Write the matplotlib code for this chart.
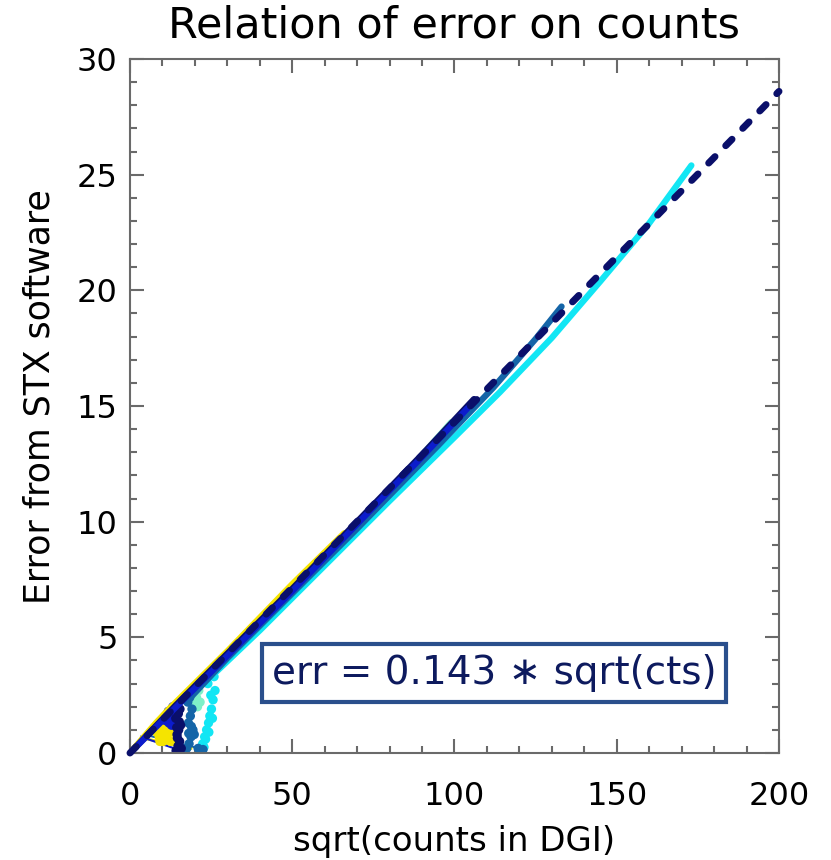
import matplotlib
matplotlib.use("Agg")
import matplotlib.pyplot as plt
from matplotlib.ticker import MultipleLocator

# fitted relation err = 0.143 * sqrt(cts)
fit_coef = 0.143
fit_x = [0, 200]

# main tracks of each series (sqrt(counts), error)
yellow_x = [0, 8, 12, 30, 50, 66]
yellow_y = [0, 1.3, 1.9, 4.4, 7.3, 9.5]
aqua_x = [21, 40, 60, 80, 99]
aqua_y = [3.0, 5.6, 8.4, 11.3, 14.3]
cyan_x = [25, 40, 60, 80, 100, 114, 130, 145, 160, 173]
cyan_y = [3.3, 5.3, 8.1, 10.9, 13.65, 15.6, 17.95, 20.4, 22.9, 25.4]
steel_x = [18, 30, 50, 70, 95, 112, 125, 133]
steel_y = [2.3, 4.1, 6.9, 9.7, 13.3, 15.8, 17.9, 19.3]
blue_x = [0, 15, 30, 50, 70, 90, 104]
blue_y = [0, 2.1, 4.2, 7.0, 9.9, 12.8, 14.9]
navy_x = [0, 14, 30, 50, 70, 90, 106]
navy_y = [0, 2.05, 4.3, 7.1, 10.0, 12.9, 15.3]

# low count clusters
yellow_low_x = [8.5, 9.5, 10.5, 11.5, 12.0, 9.0, 10.0, 11.0, 12.5, 13.0, 8.2, 9.2, 10.2, 11.2, 12.2]
yellow_low_y = [1.2, 1.0, 0.8, 0.6, 1.4, 0.7, 1.3, 1.1, 0.5, 0.9, 0.9, 0.5, 0.5, 0.9, 1.1]
navy_low_x = [14.2, 14.8, 15.3, 14.5, 15.0, 15.6, 14.1, 14.9, 15.4, 15.8, 14.6, 15.2, 14.4]
navy_low_y = [0.1, 0.3, 0.5, 0.8, 1.0, 1.2, 1.5, 1.7, 1.9, 0.2, 0.65, 1.35, 1.1]
blue_low_x = [11.0, 11.8, 12.5, 12.0, 13.2, 11.4, 12.8]
blue_low_y = [1.4, 1.8, 1.6, 1.3, 2.0, 1.6, 1.2]
steel_low_x = [17.5, 18.2, 18.8, 19.4, 18.0, 18.6, 19.1, 17.8, 18.4, 19.8, 21.0, 22.5, 18.9, 18.1]
steel_low_y = [0.2, 0.4, 0.7, 1.0, 1.3, 1.6, 1.9, 2.2, 2.4, 0.8, 0.2, 0.15, 1.15, 0.85]
aqua_low_x = [19.8, 20.5, 21.2, 20.1, 21.6, 20.8, 19.6]
aqua_low_y = [2.1, 2.4, 2.7, 2.9, 2.2, 2.0, 2.6]
cyan_low_x = [21.5, 22.4, 23.0, 23.6, 24.2, 24.6, 25.1, 25.6, 26.2, 24.0, 23.3, 25.9, 24.9, 25.4, 22.8, 24.3]
cyan_low_y = [0.2, 0.4, 0.7, 1.0, 1.3, 1.6, 1.9, 2.3, 2.7, 3.0, 0.6, 3.3, 2.5, 1.5, 0.25, 0.9]

# thin connecting strokes near the origin
thin_navy_x = [3.4, 15.7]
thin_navy_y = [0.7, 0.1]
thin_yellow_x = [3.7, 18.8]
thin_yellow_y = [0.65, 0.2]
thin_steel_x = [4.5, 22.5]
thin_steel_y = [0.8, 0.15]

c_yellow = "#f5e400"
c_aqua = "#7ff0c8"
c_cyan = "#12e6f4"
c_steel = "#1565a8"
c_blue = "#0c1ccc"
c_navy = "#0a0f6a"

fig = plt.figure(figsize=(8.31, 8.60), dpi=100)
ax = fig.add_axes([130 / 831, 107 / 860, 649 / 831, 694 / 860])

lw = 4.5
ax.plot(thin_steel_x, thin_steel_y, color=c_steel, lw=1.5)
ax.plot(thin_yellow_x, thin_yellow_y, color=c_yellow, lw=2.0)
ax.plot(thin_navy_x, thin_navy_y, color=c_blue, lw=1.5)

for xs, ys, c in [(aqua_low_x, aqua_low_y, c_aqua),
                  (yellow_low_x, yellow_low_y, c_yellow),
                  (cyan_low_x, cyan_low_y, c_cyan),
                  (steel_low_x, steel_low_y, c_steel),
                  (blue_low_x, blue_low_y, c_blue),
                  (navy_low_x, navy_low_y, c_navy)]:
    ax.scatter(xs, ys, s=45, color=c, edgecolors="none", zorder=2)

ax.plot(aqua_x, aqua_y, color=c_aqua, lw=lw, solid_capstyle="round")
ax.plot(cyan_x, cyan_y, color=c_cyan, lw=lw, solid_capstyle="round")
ax.plot(yellow_x, yellow_y, color=c_yellow, lw=lw, solid_capstyle="round")
ax.plot(steel_x, steel_y, color=c_steel, lw=lw, solid_capstyle="round")
ax.plot(navy_x, navy_y, color=c_navy, lw=lw, solid_capstyle="round")
ax.plot(blue_x, blue_y, color=c_blue, lw=lw, solid_capstyle="round")

fit_y = [fit_coef * v for v in fit_x]
ax.plot(fit_x, fit_y, color=c_navy, lw=5, dashes=(1.3, 2.2),
        dash_capstyle="round", zorder=4, clip_on=False)

ax.text(112.2, 3.46, "err = 0.143 \u2217 sqrt(cts)", fontsize=28, color="#0d1a5e",
        ha="center", va="center", zorder=5,
        bbox=dict(boxstyle="square,pad=0.25", fc="white", ec="#2a4f8c", lw=3))

ax.set_xlim(0, 200)
ax.set_ylim(0, 30)
ax.xaxis.set_major_locator(MultipleLocator(50))
ax.xaxis.set_minor_locator(MultipleLocator(10))
ax.yaxis.set_major_locator(MultipleLocator(5))
ax.yaxis.set_minor_locator(MultipleLocator(1))

frame_col = "#6a6a6a"
for sp in ax.spines.values():
    sp.set_color(frame_col)
    sp.set_linewidth(1.5)
ax.tick_params(which="both", direction="in", top=True, right=True,
               color=frame_col, width=1.5)
ax.tick_params(which="major", length=10, labelsize=23)
ax.tick_params(which="minor", length=5)
ax.tick_params(axis="x", which="major", pad=20)
ax.tick_params(axis="y", which="major", pad=9)

fig.canvas.draw()
ylabels = ax.get_yticklabels()
ylabels[0].set_va("bottom")
ylabels[-1].set_va("top")

fig.text(454 / 831, 1 - 25 / 860, "Relation of error on counts",
         fontsize=31, ha="center", va="center")
fig.text(454 / 831, 1 - 842 / 860, "sqrt(counts in DGI)",
         fontsize=24.5, ha="center", va="center")
fig.text(40 / 831, 1 - 397 / 860, "Error from STX software",
         fontsize=25, ha="center", va="center", rotation=90)

fig.savefig("out.png", dpi=100)
